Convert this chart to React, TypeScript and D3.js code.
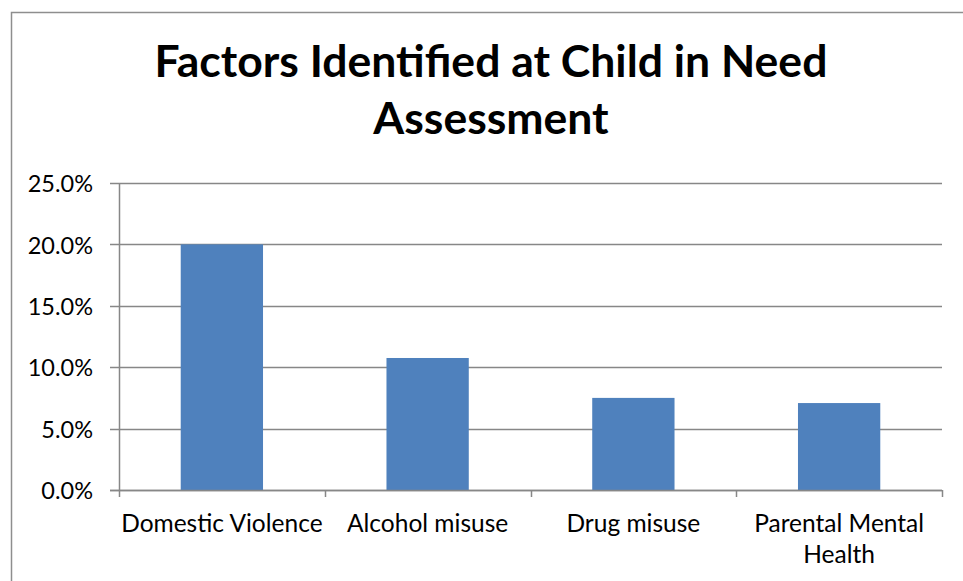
import React, { useEffect, useRef } from "react";
import * as d3 from "d3";

const categories: string[][] = [
  ["Domestic Violence"],
  ["Alcohol misuse"],
  ["Drug misuse"],
  ["Parental Mental", "Health"],
];
const values: number[] = [0.2, 0.1075, 0.075, 0.0708];
const yTicks: number[] = [0, 0.05, 0.1, 0.15, 0.2, 0.25];
const titleLines: string[] = ["Factors Identified at Child in Need", "Assessment"];

const W = 963;
const H = 581;
const FONT = "Lato, 'Open Sans', sans-serif";

export default function App() {
  const ref = useRef<SVGSVGElement>(null);

  useEffect(() => {
    const svg = d3.select(ref.current);
    svg.selectAll("*").remove();

    const left = 119, right = 942, top = 183, bottom = 490;

    const x = d3
      .scaleBand<number>()
      .domain(categories.map((_, i) => i))
      .range([left, right])
      .paddingInner(0.6)
      .paddingOuter(0.3);
    const y = d3.scaleLinear().domain([0, 0.25]).range([bottom, top]);

    // outer chart frame
    svg
      .append("rect")
      .attr("x", 11.5)
      .attr("y", 12.5)
      .attr("width", W + 20)
      .attr("height", H + 20)
      .attr("fill", "white")
      .attr("stroke", "#8e8e8e")
      .attr("stroke-width", 1.5);

    // title
    const title = svg
      .append("text")
      .attr("text-anchor", "middle")
      .attr("font-family", FONT)
      .attr("font-weight", "bold")
      .attr("font-size", 44.5)
      .attr("fill", "#000");
    titleLines.forEach((t, i) => {
      title
        .append("tspan")
        .attr("x", 491)
        .attr("y", 77 + i * 57)
        .text(t);
    });

    // gridlines + y ticks
    const grid = svg.append("g");
    yTicks.forEach((t) => {
      grid
        .append("line")
        .attr("x1", left - 9)
        .attr("x2", right)
        .attr("y1", Math.round(y(t)) + 0.5)
        .attr("y2", Math.round(y(t)) + 0.5)
        .attr("stroke", "#878787")
        .attr("stroke-width", 1.5);
      grid
        .append("text")
        .attr("x", 93)
        .attr("y", y(t) + 1)
        .attr("dy", "0.35em")
        .attr("text-anchor", "end")
        .attr("font-family", FONT)
        .attr("font-size", 23.5)
        .attr("fill", "#000")
        .text(d3.format(".1%")(t));
    });

    // bars
    svg
      .append("g")
      .selectAll("rect")
      .data(values)
      .join("rect")
      .attr("x", (_, i) => x(i)!)
      .attr("y", (d) => y(d))
      .attr("width", x.bandwidth())
      .attr("height", (d) => y(0) - y(d))
      .attr("fill", "#4F81BD");

    // y axis line
    svg
      .append("line")
      .attr("x1", left + 0.5)
      .attr("x2", left + 0.5)
      .attr("y1", top)
      .attr("y2", bottom)
      .attr("stroke", "#878787")
      .attr("stroke-width", 1.5);

    // x axis line and category ticks
    svg
      .append("line")
      .attr("x1", left - 9)
      .attr("x2", right)
      .attr("y1", bottom + 0.5)
      .attr("y2", bottom + 0.5)
      .attr("stroke", "#878787")
      .attr("stroke-width", 1.5);
    const step = x.step();
    for (let i = 0; i <= categories.length; i++) {
      const tx = Math.round(left + i * step) + 0.5;
      svg
        .append("line")
        .attr("x1", tx)
        .attr("x2", tx)
        .attr("y1", bottom)
        .attr("y2", bottom + 7)
        .attr("stroke", "#878787")
        .attr("stroke-width", 1.5);
    }

    // category labels
    categories.forEach((lines, i) => {
      const cx = x(i)! + x.bandwidth() / 2;
      const txt = svg
        .append("text")
        .attr("text-anchor", "middle")
        .attr("font-family", FONT)
        .attr("font-size", 24.5)
        .attr("fill", "#000");
      lines.forEach((l, j) => {
        txt
          .append("tspan")
          .attr("x", cx)
          .attr("y", 532 + j * 31)
          .text(l);
      });
    });
  }, []);

  return (
    <svg
      ref={ref}
      width={W}
      height={H}
      style={{ position: "absolute", left: 0, top: 0, display: "block" }}
    />
  );
}
